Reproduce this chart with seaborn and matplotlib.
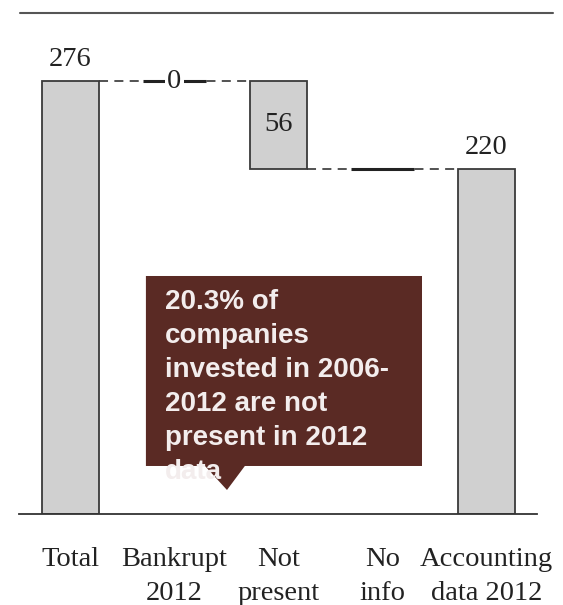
import matplotlib
matplotlib.use("Agg")
import matplotlib.pyplot as plt
from matplotlib.lines import Line2D
from matplotlib.patches import Polygon
import numpy as np
import pandas as pd
import seaborn as sns

# Waterfall steps: start total, deductions, end total
categories = ["Total", "Bankrupt\n2012", "Not\npresent", "No\ninfo", "Accounting\ndata 2012"]
values = [276, 0, 56, 0, 220]
kinds = ["total", "step", "step", "step", "total"]

callout_text = ("20.3% of\ncompanies\ninvested in 2006-\n2012 are not\n"
                "present in 2012\ndata")

# bar bottoms / heights for the waterfall
bottoms, heights, levels = [], [], []
running = 0
for v, k in zip(values, kinds):
    if k == "total":
        bottoms.append(0)
        heights.append(v)
        running = v
    else:
        running -= v
        bottoms.append(running)
        heights.append(v)
    levels.append(running)

df = pd.DataFrame({"category": categories, "height": heights, "bottom": bottoms})

sns.set_theme(style="white")
serif = ["Liberation Serif", "DejaVu Serif"]
sans = ["Liberation Sans", "DejaVu Sans"]
FS = 20.5

W, H = 563, 605
fig = plt.figure(figsize=(W / 100, H / 100), dpi=100)
ax = fig.add_axes([19 / W, 1 - 514 / H, (537 - 19) / W, (514 - 20) / H])

bar_w = 0.54
sns.barplot(data=df, x="category", y="height", order=categories,
            bottom=df["bottom"].values, color="#D0D0D0", saturation=1,
            width=bar_w, edgecolor="#3A3A3A", linewidth=1.3, ax=ax, zorder=2)

ax.set_xlim(-0.495, 4.486)
ax.set_ylim(0, 276 * 494 / 433)

# connectors between consecutive bars
for i in range(len(values) - 1):
    if kinds[i] == "total" or heights[i] > 0:
        level = levels[i]
        j = i + 1
        while j < len(values) and heights[j] == 0:
            j += 1
        if j < len(values):
            ax.plot([i + bar_w / 2, j - bar_w / 2], [level, level],
                    color="#444444", lw=1.3, ls=(0, (5, 3.5)), zorder=1)

# zero-size steps drawn as solid ticks
for i, (v, k) in enumerate(zip(values, kinds)):
    if k == "step" and v == 0:
        ax.plot([i - 0.3, i + 0.3], [levels[i], levels[i]], color="#222222",
                lw=2.2, solid_capstyle="butt", zorder=3)

# value labels
for i, (v, k) in enumerate(zip(values, kinds)):
    if k == "total":
        ax.annotate(str(v), (i, v), xytext=(0, 10.8), textcoords="offset points",
                    ha="center", va="baseline", fontsize=FS, family=serif,
                    color="#222222")
    elif v > 0:
        ax.text(i, bottoms[i] + v / 2, str(v), ha="center", va="center",
                fontsize=FS, family=serif, color="#222222", zorder=4)
    elif i == 1:
        ax.text(i, levels[i], str(v), ha="center", va="center", fontsize=FS,
                family=serif, color="#222222", zorder=4,
                bbox=dict(facecolor="white", edgecolor="none", pad=1.5))

ax.set_xlabel("")
ax.set_ylabel("")
ax.set_yticks([])
ax.set_xticks(range(len(categories)))
ax.set_xticklabels(categories, fontsize=FS, family=serif, color="#222222",
                   linespacing=1.45)
ax.tick_params(axis="x", length=0, pad=24)
for s in ["top", "left", "right"]:
    ax.spines[s].set_visible(False)
ax.spines["bottom"].set_color("#333333")
ax.spines["bottom"].set_linewidth(1.3)

# callout box with pointer
box = Polygon([(0.245, 0.4818), (0.778, 0.4818), (0.778, 0.0972), (0.436, 0.0972),
               (0.4015, 0.0486), (0.359, 0.0972), (0.245, 0.0972)],
              closed=True, transform=ax.transAxes, facecolor="#5A2A24",
              edgecolor="none", zorder=5)
ax.add_patch(box)
ax.text(0.2819, 0.455, callout_text, transform=ax.transAxes, ha="left", va="top",
        fontsize=20, fontweight="bold", family=sans, color="#F3EDED",
        linespacing=1.4, zorder=6)

# rule at the top of the figure
fig.add_artist(Line2D([20 / W, 553 / W], [1 - 13 / H, 1 - 13 / H],
                      transform=fig.transFigure, color="#555555", lw=1.5))

fig.savefig("out.png", dpi=100)
